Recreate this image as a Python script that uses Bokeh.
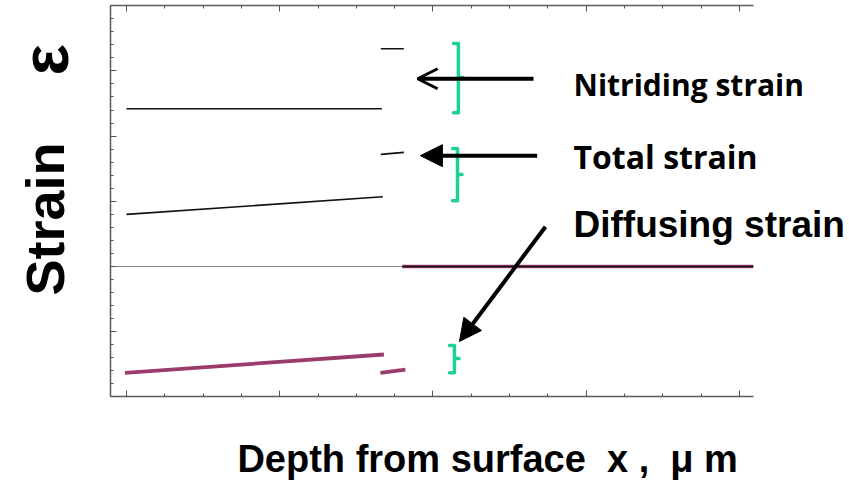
import numpy as np
from bokeh.plotting import figure
from bokeh.models import (Range1d, LinearAxis, FixedTicker, Label, Arrow,
                          OpenHead, NormalHead)
from bokeh.embed import file_html
from bokeh.resources import INLINE

# ---------------- data ----------------
nitriding_main_x = [0.0, 1.667]
nitriding_main_y = [2.42, 2.42]
nitriding_short_x = [1.66, 1.81]
nitriding_short_y = [3.34, 3.34]

total_main_x = [0.0, 1.673]
total_main_y = [0.80, 1.07]
total_short_x = [1.66, 1.81]
total_short_y = [1.72, 1.75]

diffusing_main_x = [-0.01, 1.68]
diffusing_main_y = [-1.63, -1.35]
diffusing_short_x = [1.657, 1.82]
diffusing_short_y = [-1.63, -1.58]
diffusing_deep_x = [1.80, 4.09]
diffusing_deep_y = [0.0, 0.0]

bracket_x = [2.166, 2.16, 2.14]
bracket_top = [3.42, 1.81, -1.21]
bracket_bottom = [2.36, 1.01, -1.63]
bracket_mid = [2.90, 1.41, -1.41]

arrow_x_start = [2.656, 2.68, 2.734]
arrow_y_start = [2.88, 1.70, 0.61]
arrow_x_end = [1.90, 1.918, 2.173]
arrow_y_end = [2.88, 1.70, -1.15]
arrow_head = ["open", "filled", "filled"]

label_texts = ["Nitriding strain", "Total strain", "Diffusing strain"]
label_x = [2.917, 2.917, 2.917]
label_y = [2.79, 1.69, 0.64]

x_axis_span = [-0.104, 4.091]
y_axis_span = [-2.0, 4.0]
x_major_ticks = [0, 1, 2, 3, 4]
x_minor_ticks = [i * 0.25 for i in range(0, 17)]
y_major_ticks = [-2, -1, 0, 1, 2, 3, 4]
y_minor_ticks = [round(-2 + i * 0.2, 2) for i in range(0, 31)]

x_title = "Depth from surface\u00a0\u00a0x\u00a0,\u00a0\u00a0\u03bc\u00a0m"
y_title_main = "Strain"
y_title_sym = "\u03b5"

# ---------------- figure ----------------
p = figure(width=849, height=485, x_range=Range1d(-0.822, 4.718),
           y_range=Range1d(-3.359, 4.080), output_backend="svg",
           toolbar_location=None, x_axis_location=None, y_axis_location=None,
           min_border_left=0, min_border_right=0, min_border_top=0,
           min_border_bottom=0)
p.outline_line_color = None
p.xgrid.visible = False
p.ygrid.visible = False
p.background_fill_color = "white"
p.border_fill_color = "white"

def style_axis(ax, ticks):
    ax.major_label_overrides = {t: "" for t in ticks}
    ax.major_label_text_font_size = "1px"
    ax.major_label_standoff = 0
    ax.axis_line_color = "#5a5a5a"
    ax.axis_line_width = 1.5
    ax.major_tick_line_color = "#555555"
    ax.minor_tick_line_color = "#555555"
    ax.major_tick_in = 6
    ax.major_tick_out = 0
    ax.minor_tick_in = 3
    ax.minor_tick_out = 0

xt = FixedTicker(ticks=x_major_ticks, minor_ticks=x_minor_ticks)
yt = FixedTicker(ticks=y_major_ticks, minor_ticks=y_minor_ticks)
ax_b = LinearAxis(ticker=xt, fixed_location=y_axis_span[0], bounds=tuple(x_axis_span))
style_axis(ax_b, x_major_ticks)
p.add_layout(ax_b, "below")
ax_t = LinearAxis(ticker=xt, fixed_location=y_axis_span[1], bounds=tuple(x_axis_span))
style_axis(ax_t, x_major_ticks)
p.add_layout(ax_t, "above")
ax_l = LinearAxis(ticker=yt, fixed_location=x_axis_span[0], bounds=tuple(y_axis_span))
style_axis(ax_l, y_major_ticks)
p.add_layout(ax_l, "left")

# zero line across the plotting box
p.line(x_axis_span, [0, 0], line_color="#8a8a8a", line_width=1)

# strain lines
black = "#111111"
purple = "#9b3b6c"
p.line(nitriding_main_x, nitriding_main_y, line_color=black, line_width=1.6)
p.line(nitriding_short_x, nitriding_short_y, line_color=black, line_width=1.6)
p.line(total_main_x, total_main_y, line_color=black, line_width=1.6)
p.line(total_short_x, total_short_y, line_color=black, line_width=1.6)
p.line(diffusing_main_x, diffusing_main_y, line_color=purple, line_width=3.8)
p.line(diffusing_short_x, diffusing_short_y, line_color=purple, line_width=3.8)
p.line(diffusing_deep_x, diffusing_deep_y, line_color=purple, line_width=3.5)
p.line(diffusing_deep_x, diffusing_deep_y, line_color=black, line_width=1.6)

# brackets
green = "#1fd09b"
hook = 0.032
nub = 0.03
for bx, bt, bb, bm in zip(bracket_x, bracket_top, bracket_bottom, bracket_mid):
    xs = [bx - hook, bx, bx, bx + nub, bx, bx, bx - hook]
    ys = [bt, bt, bm, bm, bm, bb, bb]
    p.line(xs, ys, line_color=green, line_width=3.5, line_join="round", line_cap="round")

# arrows
for xs0, ys0, xe, ye, h in zip(arrow_x_start, arrow_y_start, arrow_x_end, arrow_y_end, arrow_head):
    if h == "open":
        head = OpenHead(size=20, line_width=3, line_color="black")
    else:
        head = NormalHead(size=22, fill_color="black", line_color="black", line_width=1)
    p.add_layout(Arrow(end=head, x_start=xs0, y_start=ys0, x_end=xe, y_end=ye,
                       line_width=4, line_color="black"))

# text labels
fonts = ["Open Sans", "Open Sans", "Liberation Sans"]
sizes = ["30px", "32px", "37px"]
for t, lx, ly, f, s in zip(label_texts, label_x, label_y, fonts, sizes):
    p.add_layout(Label(x=lx, y=ly, text=t, text_font=f, text_font_size=s,
                       text_font_style="bold", text_color="black",
                       text_baseline="alphabetic", text_align="left"))

p.add_layout(Label(x=0.724, y=-2.96, text=x_title, text_font="Liberation Sans",
                   text_font_size="38px", text_font_style="bold", text_color="black",
                   text_baseline="alphabetic", text_align="left"))
p.add_layout(Label(x=-0.529, y=-0.445, text=y_title_main, text_font="Liberation Sans",
                   text_font_size="54px", text_font_style="bold", text_color="black",
                   angle=np.pi / 2, text_baseline="alphabetic", text_align="left"))
p.add_layout(Label(x=-0.529, y=2.93, text=y_title_sym, text_font="Liberation Sans",
                   text_font_size="66px", text_font_style="bold", text_color="black",
                   angle=np.pi / 2, text_baseline="alphabetic", text_align="left"))

open("out.html", "w").write(file_html(p, INLINE))
